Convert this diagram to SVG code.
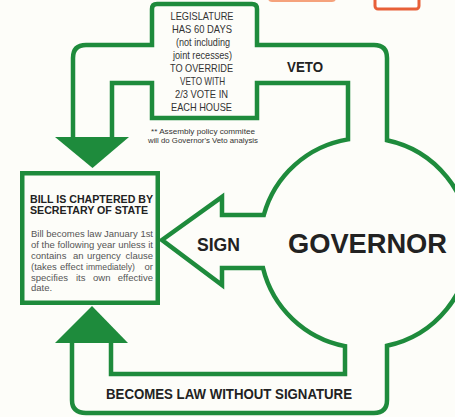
<svg xmlns="http://www.w3.org/2000/svg" width="455" height="417" viewBox="0 0 455 417">
<style>
.ln{fill:none;stroke:#1e8b3c;stroke-width:4.5;stroke-linejoin:miter}
.ah{fill:#1e8b3c;stroke:none}
.t{font-family:"Liberation Sans",Arial,sans-serif;fill:#333}
.b{font-family:"Liberation Sans",Arial,sans-serif;font-weight:bold;fill:#222}
.leg{font-size:10.5px;text-anchor:middle}
.p{font-size:9.5px;fill:#555}
</style>
<rect width="455" height="417" fill="#fdfdf9"/>
<g id="orange-marks">
<rect x="268" y="-6" width="68" height="8" rx="4" fill="#f5a27c"/>
<rect x="375" y="-8" width="44" height="17" rx="3" fill="#fff" stroke="#e8603a" stroke-width="3"/>
</g>
<g id="connectors">
<path class="ln" d="M73,138 V58 Q73,45 86,45 H152 V9 Q152,4 157,4 H252 Q257,4 257,9 V45 H374 Q387,45 387,58 V140.3 A105,105 0 0 1 387,345.7 V400 Q387,413 374,413 H86 Q72,413 72,400 V343"/>
<path class="ln" d="M112,138 V83 H152 V118 H257 V83 H348 V139.4 A105,105 0 0 0 263.8,215 H222 V197 L162,240 L222,285 V268 H263 A105,105 0 0 0 345,346.1 V374 H111 V343"/>
<polygon class="ah" points="55,137 129,137 92.5,168"/>
<polygon class="ah" points="55,343 128,343 92,306"/>
<text class="b" x="287" y="72" font-size="14" textLength="36" lengthAdjust="spacingAndGlyphs">VETO</text>
<text class="b" x="106" y="399" font-size="14" textLength="246" lengthAdjust="spacingAndGlyphs">BECOMES LAW WITHOUT SIGNATURE</text>
<text class="b" x="197" y="251" font-size="19" textLength="43" lengthAdjust="spacingAndGlyphs">SIGN</text>
</g>
<g id="legislature">
<text class="t leg" x="202" y="20" textLength="63" lengthAdjust="spacingAndGlyphs">LEGISLATURE</text>
<text class="t leg" x="202" y="33" textLength="60" lengthAdjust="spacingAndGlyphs">HAS 60 DAYS</text>
<text class="t leg" x="203" y="46" textLength="54" lengthAdjust="spacingAndGlyphs">(not including</text>
<text class="t leg" x="202.5" y="59" textLength="59" lengthAdjust="spacingAndGlyphs">joint recesses)</text>
<text class="t leg" x="201.5" y="72" textLength="63" lengthAdjust="spacingAndGlyphs">TO OVERRIDE</text>
<text class="t leg" x="202.5" y="85" textLength="45" lengthAdjust="spacingAndGlyphs">VETO WITH</text>
<text class="t leg" x="201.5" y="98" textLength="53" lengthAdjust="spacingAndGlyphs">2/3 VOTE IN</text>
<text class="t leg" x="201.5" y="111" textLength="61" lengthAdjust="spacingAndGlyphs">EACH HOUSE</text>
</g>
<g id="footnote">
<text class="t" x="203" y="133.5" font-size="8" text-anchor="middle" textLength="104" lengthAdjust="spacingAndGlyphs" fill="#444">** Assembly policy commitee</text>
<text class="t" x="203" y="142.5" font-size="8" text-anchor="middle" textLength="110" lengthAdjust="spacingAndGlyphs" fill="#444">will do Governor's Veto analysis</text>
</g>
<g id="bill">
<rect x="22.25" y="173.25" width="135.5" height="129.5" fill="none" stroke="#1e8b3c" stroke-width="4.5"/>
<text class="b" x="30" y="202.5" font-size="11.5" textLength="123" lengthAdjust="spacingAndGlyphs">BILL IS CHAPTERED BY</text>
<text class="b" x="30" y="214" font-size="11.5" textLength="118" lengthAdjust="spacingAndGlyphs">SECRETARY OF STATE</text>
<text class="t p" x="31" y="236.5" textLength="122" lengthAdjust="spacingAndGlyphs">Bill becomes law January 1st</text>
<text class="t p" x="31" y="247.5" textLength="122" lengthAdjust="spacingAndGlyphs">of the following year unless it</text>
<text class="t p" y="258.5"><tspan x="31">contains</tspan><tspan x="73">an</tspan><tspan x="87">urgency</tspan><tspan x="153" text-anchor="end">clause</tspan></text>
<text class="t p" y="269.5"><tspan x="31">(takes</tspan><tspan x="60">effect</tspan><tspan x="86" textLength="49" lengthAdjust="spacingAndGlyphs">immediately)</tspan><tspan x="153" text-anchor="end">or</tspan></text>
<text class="t p" y="280.5"><tspan x="31">specifies</tspan><tspan x="76">its</tspan><tspan x="93">own</tspan><tspan x="153" text-anchor="end">effective</tspan></text>
<text class="t p" x="31" y="291">date.</text>
</g>
<g id="governor">
<text class="b" x="288" y="253" font-size="28" textLength="159" lengthAdjust="spacingAndGlyphs">GOVERNOR</text>
</g>
</svg>
